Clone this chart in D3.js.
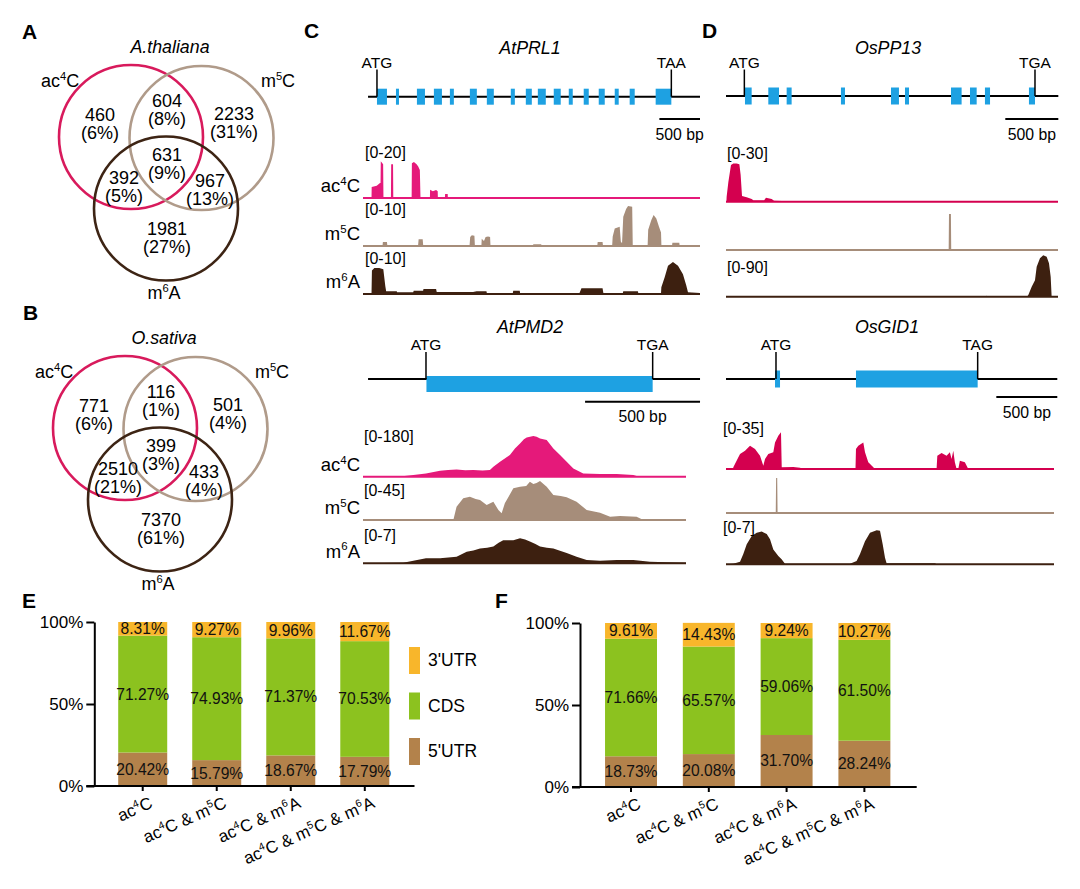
<!DOCTYPE html>
<html>
<head>
<meta charset="utf-8">
<script src="https://cdn.jsdelivr.net/npm/d3@7"></script>
<style>
  body { margin: 0; background: #fff; }
  svg { display: block; font-family: "Liberation Sans", Arial, sans-serif; }
</style>
</head>
<body>
<svg id="fig" width="1080" height="889"></svg>
<script>
// ---------- data ----------
// venn: regions = ac4C only, ac4C&m5C, m5C only, all three, ac4C&m6A, m5C&m6A, m6A only
const vennSets = ["ac{4}C", "m{5}C", "m{6}A"]
const athCounts = [460, 604, 2233, 631, 392, 967, 1981]
const osaCounts = [771, 116, 501, 399, 2510, 433, 7370]

// stacked bars (% of peaks)
const regionCats = ["ac{4}C", "ac{4}C & m{5}C", "ac{4}C & m{6}A", "ac{4}C & m{5}C & m{6}A"]
const segNames = ["3'UTR", "CDS", "5'UTR"]
const athUTR5 = [20.42, 15.79, 18.67, 17.79]
const athCDS  = [71.27, 74.93, 71.37, 70.53]
const athUTR3 = [8.31, 9.27, 9.96, 11.67]
const osaUTR5 = [18.73, 20.08, 31.70, 28.24]
const osaCDS  = [71.66, 65.57, 59.06, 61.50]
const osaUTR3 = [9.61, 14.43, 9.24, 10.27]
const pctTicks = [0, 50, 100]

// gene models, bp from window start
const prl1Len = 4150, prl1Span = [62, 4150], prl1Codons = [172, 3797], prl1CodonNames = ["ATG", "TAA"]
const prl1Exons = [[172,295],[406,443],[664,763],[873,972],[1070,1119],[1316,1402],[1525,1611],[1820,1870],
  [2005,2079],[2153,2251],[2349,2435],[2534,2583],[2718,2780],[2903,2977],[3100,3149],[3284,3346],[3604,3797]]
const pp13Len = 3131, pp13Span = [0, 3134], pp13Codons = [173, 2914], pp13CodonNames = ["ATG", "TGA"]
const pp13Exons = [[179,242],[399,500],[572,619],[1084,1122],[1556,1631],[1688,1726],[2122,2222],[2301,2364],[2442,2490],[2857,2914]]
const pmd2Len = 1405, pmd2Span = [22, 1466], pmd2Codons = [274, 1260], pmd2CodonNames = ["ATG", "TGA"]
const pmd2Exons = [[276,1260]]
const gid1Len = 2690, gid1Span = [0, 2717], gid1Codons = [410, 2064], gid1CodonNames = ["ATG", "TAG"]
const gid1Exons = [[402,443],[1066,2064]]

// coverage tracks [bp, value]
const prl1Ac4c = [[0,0],[105,0],[107,4.9],[169,5.5],[209,6.7],[216,6.7],[219,16.3],[248,15],[252,0],[344,0],[347,15],[370,15],[373,0],
  [599,0],[602,15.5],[627,16],[660,15],[680,14],[700,12.5],[708,0],[824,0],[826,3.7],[860,3],[900,3.6],[920,3],[922,0],
  [1009,0],[1011,1.8],[1043,1.8],[1045,0],[1276,0],[1278,0.4],[1300,0.4],[1302,0],[4150,0]]
const prl1M5c = [[0,0],[240,0],[245,0.9],[295,0.9],[300,0],[678,0],[685,1.5],[735,1.5],[742,0],[1312,0],[1320,2],[1340,2.4],
  [1372,2.3],[1378,0],[1458,0],[1462,1.6],[1490,1.1],[1510,2],[1540,2.1],[1565,2],[1570,0],[2093,0],[2097,0.4],[2195,0.4],
  [2198,0],[2885,0],[2890,0.9],[2950,0.9],[2956,0],[3068,0],[3075,2.1],[3100,3.9],[3161,4.3],[3175,1],[3190,0.6],[3205,6.5],
  [3240,8.2],[3264,8.9],[3315,8.7],[3322,0],[3505,0],[3512,3.6],[3551,5.8],[3579,6.9],[3612,6.1],[3645,4.3],[3670,3],
  [3675,0],[3805,0],[3810,0.7],[3895,0.7],[3900,0],[4150,0]]
const prl1M6a = [[0,0.2],[105,0.2],[110,5.2],[140,5.8],[200,5.8],[250,5.5],[275,1.7],[285,0.6],[415,0.6],[420,0.4],[618,0.4],
  [625,0.7],[740,0.7],[745,1.1],[900,1.1],[908,0.45],[1355,0.45],[1400,0.6],[1520,0.6],[1525,0.2],[1845,0.2],[1850,0.7],
  [1930,0.7],[1935,0.15],[2665,0.15],[2690,1.3],[2950,1.3],[2960,0.2],[3200,0.2],[3205,0.6],[3385,0.6],[3390,0.2],[3670,0.2],
  [3674,1.5],[3715,3.7],[3756,6.3],[3817,7.1],[3879,6.3],[3940,4.4],[3981,1.9],[4002,0.4],[4150,0.2]]

const pp13Ac4c = [[0,0],[4,0],[6,3.3],[22,13],[47,24.4],[69,25.5],[100,25.5],[126,25],[138,18],[151,3.8],[195,2.9],[242,1.8],
  [258,0.9],[360,0.9],[377,2.7],[431,1.8],[453,0.7],[603,0.3],[610,0],[3131,0]]
const pp13M5c = [[0,0],[2100,0],[2103,8],[2121,8],[2124,0],[3131,0]]
const pp13M6a = [[0,0.5],[2455,0.5],[2458,2],[2470,0.5],[2840,0.5],[2851,3.3],[2883,20],[2914,33],[2930,60],[2961,77],
  [2992,83],[3024,80],[3046,67],[3062,40],[3071,0],[3131,0]]

const pmd2Ac4c = [[0,0.5],[161,1.3],[219,6.7],[274,13],[335,24],[370,27],[407,29],[445,26],[480,27],[520,25],[552,27],[567,40],
  [596,60],[639,87],[661,113],[683,133],[700,150],[712,157],[741,163],[755,160],[770,153],[799,147],[828,113],[857,87],
  [886,60],[915,33],[958,13],[1031,11],[1104,11],[1176,7],[1190,2.7],[1405,0]]
const pmd2M5c = [[0,0],[393,0],[407,13.3],[436,21.7],[465,23.3],[490,21],[509,20],[538,15],[567,18.3],[589,10],[603,6.7],
  [617,16.7],[654,31.7],[683,33.3],[710,34],[726,38.3],[741,36],[755,37],[770,39],[799,33.3],[828,25],[860,24],[886,22.7],
  [929,18.3],[973,10],[1031,7.3],[1075,3.3],[1118,4],[1190,3.3],[1220,0],[1405,0]]
const pmd2M6a = [[0,0],[175,0.1],[219,0.4],[274,0.8],[335,0.8],[407,1.0],[451,1.8],[480,2.0],[509,2.3],[540,2.4],[567,2.6],
  [590,3.2],[610,3.6],[654,3.6],[683,3.9],[705,3.7],[726,3.4],[750,3.0],[770,2.6],[800,2.4],[828,2.3],[860,1.9],[886,1.6],
  [929,1.0],[973,0.5],[1031,0.4],[1104,0.5],[1176,0.5],[1248,0.26],[1321,0.16],[1405,0.1]]

const gid1Ac4c = [[0,0],[58,0],[60,1.3],[87,6.5],[115,11.7],[156,14.2],[197,18.1],[238,15.5],[279,10.4],[306,2.6],[320,7.8],
  [347,11.7],[388,13],[402,20.7],[429,25.9],[451,28.5],[457,1.3],[552,1.6],[607,1],[634,0],[1062,0],[1066,15.5],[1085,18.1],
  [1126,20.7],[1140,13],[1167,5.2],[1208,1.3],[1222,0],[1727,0],[1733,10.4],[1768,12.4],[1809,10.4],[1836,13],[1850,7.8],
  [1864,14.2],[1877,5.2],[1891,0],[1905,0],[1918,6.5],[1959,5.2],[1987,0],[2690,0]]
const gid1M5c = [[0,0],[408,0],[411,7.8],[420,7.8],[423,0],[2690,0]]
const gid1M6a = [[0,0],[60,0.1],[115,0.4],[142,1.6],[170,3.1],[211,4.4],[252,4.9],[293,5.1],[334,4.7],[361,3.9],[388,2.3],
  [429,1.3],[456,0.8],[484,0.1],[1017,0.1],[1071,0.5],[1099,1.6],[1140,3.6],[1181,4.9],[1236,5.3],[1263,5.2],[1285,3.1],
  [1304,1.0],[1317,0.16],[1714,0.15],[1727,0],[2690,0]]

const trackNames = ["ac{4}C", "m{5}C", "m{6}A"]
const prl1Ranges = [20, 10, 10], pp13Ranges = [30, 10, 90], pmd2Ranges = [180, 45, 7], gid1Ranges = [35, 10, 7]
const pp13ShowRange = [true, false, true], gid1ShowRange = [true, false, true]

// ---------- style ----------
const vennColors = ["#d81a5c", "#b09b8a", "#3d2414"]
const segColors = { "3'UTR": "#f8b62b", "CDS": "#8cc21f", "5'UTR": "#b3824b" }
const exonColor = "#1ea1e2"
const trackColorsC = ["#e5197a", "#a68d7a", "#3d2010"]
const trackColorsD = ["#d4004f", "#a68d7a", "#3d2010"]
const FS = 17

const svg = d3.select("#fig")
svg.append("rect").attr("width", 1080).attr("height", 889).attr("fill", "#fff")

// text with {n} superscripts
function rich(sel, str, size) {
  let up = false
  str.split(/\{(\d)\}/).forEach((p, i) => {
    if (p === "") return
    const t = sel.append("tspan").text(p)
    if (i % 2) { t.attr("font-size", size * 0.62).attr("dy", -size * 0.4); up = true }
    else if (up) { t.attr("dy", size * 0.4); up = false }
  })
  return sel
}

// panel letters
const letters = [["A", 22, 38.5], ["B", 23, 320], ["C", 304, 38], ["D", 702, 38], ["E", 22, 608], ["F", 495, 608]]
svg.selectAll("text.letter").data(letters).join("text")
  .attr("class", "letter")
  .attr("x", d => d[1]).attr("y", d => d[2])
  .attr("font-size", 21).attr("font-weight", "bold")
  .text(d => d[0])

// ---------- venn ----------
const vennCircles = [[-35, -24], [35.5, -23], [0, 47.5]]
const vennSpots = [[-66, -46], [1, -60], [68, -47], [1, -6], [-42, 17], [44, 20], [1, 68]]
const vennSetPos = [[-106, -80], [112, -80], [-2, 132]]
const VS = 18

function drawVenn(cx, cy, counts, title) {
  const g = svg.append("g").attr("transform", `translate(${cx},${cy})`)
  const total = d3.sum(counts)

  g.selectAll("circle").data(vennSets).join("circle")
    .attr("cx", (d, i) => vennCircles[i][0])
    .attr("cy", (d, i) => vennCircles[i][1])
    .attr("r", 72)
    .attr("fill", "none")
    .attr("stroke", (d, i) => vennColors[i])
    .attr("stroke-width", 2.6)

  g.append("text").attr("x", 4).attr("y", -114).attr("dy", "0.35em")
    .attr("text-anchor", "middle").attr("font-style", "italic").attr("font-size", 17.8)
    .text(title)

  g.selectAll("text.set").data(vennSets).join("text")
    .attr("class", "set")
    .attr("x", (d, i) => vennSetPos[i][0]).attr("y", (d, i) => vennSetPos[i][1])
    .attr("dy", "0.35em").attr("text-anchor", "middle").attr("font-size", 18)
    .each(function (d) { rich(d3.select(this), d, 18) })

  const lab = g.selectAll("g.region").data(counts).join("g")
    .attr("class", "region")
    .attr("transform", (d, i) => `translate(${vennSpots[i][0]},${vennSpots[i][1]})`)
  lab.append("text").attr("y", -0.5).attr("dy", "0.35em").attr("text-anchor", "middle").attr("font-size", VS)
    .text(d => d)
  lab.append("text").attr("y", 17.5).attr("dy", "0.35em").attr("text-anchor", "middle").attr("font-size", VS)
    .text(d => `(${Math.round(d / total * 100)}%)`)
}

drawVenn(166, 161, athCounts, "A.thaliana")
drawVenn(160, 452, osaCounts, "O.sativa")

// ---------- gene + tracks ----------
function drawGene(p, gene, tracks) {
  const g = svg.append("g")
  const x = d3.scaleLinear().domain([0, gene.len]).range([p.x0, p.x1])

  g.append("text").attr("x", p.titleX).attr("y", p.titleY).attr("dy", "0.35em")
    .attr("text-anchor", "middle").attr("font-style", "italic").attr("font-size", 17.8)
    .text(gene.name)

  g.append("line")
    .attr("x1", x(gene.span[0])).attr("x2", x(gene.span[1]))
    .attr("y1", p.lineY).attr("y2", p.lineY)
    .attr("stroke", "#000").attr("stroke-width", 2)

  g.selectAll("rect.exon").data(gene.exons).join("rect")
    .attr("class", "exon")
    .attr("x", d => x(d[0])).attr("width", d => Math.max(2, x(d[1]) - x(d[0])))
    .attr("y", p.lineY + p.exonDy - p.exonH / 2).attr("height", p.exonH)
    .attr("fill", exonColor)

  // start / stop codons
  g.selectAll("line.codon").data(gene.codons).join("line")
    .attr("class", "codon")
    .attr("x1", d => x(d)).attr("x2", d => x(d))
    .attr("y1", p.lineY).attr("y2", p.codonY + 7)
    .attr("stroke", "#000").attr("stroke-width", 1.5)
  g.selectAll("text.codon").data(gene.codons).join("text")
    .attr("class", "codon")
    .attr("x", d => x(d)).attr("y", p.codonY).attr("dy", "0.35em")
    .attr("text-anchor", "middle").attr("font-size", 15.5)
    .text((d, i) => gene.codonNames[i])

  // 500 bp scale bar
  const b0 = x(gene.span[1] - 500), b1 = x(gene.span[1])
  g.append("line").attr("x1", b0).attr("x2", b1).attr("y1", p.barY).attr("y2", p.barY)
    .attr("stroke", "#000").attr("stroke-width", 2)
  g.append("text").attr("x", (b0 + b1) / 2).attr("y", p.barY + 15).attr("dy", "0.35em")
    .attr("text-anchor", "middle").attr("font-size", 15.8)
    .text("500 bp")

  tracks.data.forEach((vals, i) => {
    const base = p.rows[i]
    const y = d3.scaleLinear().domain([0, tracks.ranges[i]]).range([base, base - 45])
    const area = d3.area().x(d => x(d[0])).y0(base).y1(d => y(d[1]))
    g.append("path").datum(vals).attr("d", area).attr("fill", tracks.colors[i])
    g.append("line").attr("x1", x(0)).attr("x2", x(gene.len)).attr("y1", base).attr("y2", base)
      .attr("stroke", tracks.colors[i]).attr("stroke-width", 2)
    if (tracks.show[i]) {
      g.append("text").attr("x", p.rangeX).attr("y", p.rangeY[i]).attr("dy", "0.35em")
        .attr("font-size", 16)
        .text(`[0-${tracks.ranges[i]}]`)
    }
    if (p.names) {
      g.append("text").attr("x", 360).attr("y", base - 12).attr("dy", "0.35em")
        .attr("text-anchor", "end").attr("font-size", 18.5)
        .call(s => rich(s, trackNames[i], 18.5))
    }
  })
}

drawGene(
  { x0: 363, x1: 700, titleX: 530, titleY: 48, lineY: 96.7, exonH: 16, exonDy: 0, codonY: 62.5, barY: 119,
    rows: [198, 246, 294], rangeY: [152, 209, 258], rangeX: 365, names: true },
  { name: "AtPRL1", len: prl1Len, span: prl1Span, exons: prl1Exons, codons: prl1Codons, codonNames: prl1CodonNames },
  { data: [prl1Ac4c, prl1M5c, prl1M6a], ranges: prl1Ranges, show: [true, true, true], colors: trackColorsC })

drawGene(
  { x0: 726, x1: 1058, titleX: 888, titleY: 48, lineY: 96, exonH: 17, exonDy: 0, codonY: 62.5, barY: 119,
    rows: [201.7, 250, 296.7], rangeY: [153, 0, 267], rangeX: 727, names: false },
  { name: "OsPP13", len: pp13Len, span: pp13Span, exons: pp13Exons, codons: pp13Codons, codonNames: pp13CodonNames },
  { data: [pp13Ac4c, pp13M5c, pp13M6a], ranges: pp13Ranges, show: pp13ShowRange, colors: trackColorsD })

drawGene(
  { x0: 363, x1: 686, titleX: 530, titleY: 327, lineY: 379, exonH: 16, exonDy: 5, codonY: 345, barY: 401.7,
    rows: [476.7, 520, 563.3], rangeY: [436, 490, 535], rangeX: 364, names: true },
  { name: "AtPMD2", len: pmd2Len, span: pmd2Span, exons: pmd2Exons, codons: pmd2Codons, codonNames: pmd2CodonNames },
  { data: [pmd2Ac4c, pmd2M5c, pmd2M6a], ranges: pmd2Ranges, show: [true, true, true], colors: trackColorsC })

drawGene(
  { x0: 726, x1: 1054, titleX: 887, titleY: 327, lineY: 379, exonH: 17, exonDy: 0, codonY: 345, barY: 397,
    rows: [469, 513, 564.3], rangeY: [428, 0, 527], rangeX: 723, names: false },
  { name: "OsGID1", len: gid1Len, span: gid1Span, exons: gid1Exons, codons: gid1Codons, codonNames: gid1CodonNames },
  { data: [gid1Ac4c, gid1M5c, gid1M6a], ranges: gid1Ranges, show: gid1ShowRange, colors: trackColorsD })

// ---------- stacked bars ----------
function drawBars(p, utr5, cds, utr3, legend) {
  const g = svg.append("g")
  const rows = regionCats.map((c, i) => ({ cat: c, "5'UTR": utr5[i], "CDS": cds[i], "3'UTR": utr3[i] }))
  const series = d3.stack().keys(["5'UTR", "CDS", "3'UTR"])(rows)

  const x = d3.scaleBand().domain(regionCats).range([p.r0, p.r1]).paddingInner(p.pad).paddingOuter(0.3)
  const y = d3.scaleLinear().domain([0, 100]).range([p.y0, p.y1])

  const grp = g.selectAll("g.seg").data(series).join("g").attr("class", "seg")
    .attr("fill", d => segColors[d.key])
  grp.selectAll("rect").data(d => d).join("rect")
    .attr("x", d => x(d.data.cat)).attr("width", x.bandwidth())
    .attr("y", d => y(d[1])).attr("height", d => y(d[0]) - y(d[1]))
  grp.selectAll("text").data(d => d.map(v => ({ v, key: d.key }))).join("text")
    .attr("x", d => x(d.v.data.cat) + x.bandwidth() / 2)
    .attr("y", d => y((d.v[0] + d.v[1]) / 2)).attr("dy", "0.35em")
    .attr("text-anchor", "middle").attr("font-size", 15.6).attr("fill", "#111")
    .text(d => d.v.data[d.key].toFixed(2) + "%")

  // y axis
  g.append("g").attr("transform", `translate(${p.ax},0)`)
    .call(d3.axisLeft(y).tickValues(pctTicks).tickFormat(d => d + "%").tickSize(8).tickSizeOuter(0).tickPadding(3))
    .call(a => a.selectAll("path,line").attr("stroke", "#000").attr("stroke-width", 2))
    .call(a => a.selectAll("text").attr("font-size", FS).attr("fill", "#000").attr("font-family", null))

  // x axis
  g.append("line").attr("x1", p.ax - 8).attr("x2", p.r1 + 3).attr("y1", p.y0).attr("y2", p.y0)
    .attr("stroke", "#000").attr("stroke-width", 2)
  g.append("g").attr("transform", `translate(0,${p.y0})`)
    .call(d3.axisBottom(x).tickSize(5).tickSizeOuter(0).tickFormat(""))
    .call(a => a.select(".domain").remove())
    .call(a => a.selectAll("line").attr("stroke", "#000").attr("stroke-width", 2))
  g.selectAll("text.cat").data(regionCats).join("text")
    .attr("class", "cat")
    .attr("transform", d => `translate(${x(d) + x.bandwidth() / 2 + 11},${p.y0 + 21}) rotate(-24)`)
    .attr("text-anchor", "end").attr("font-size", FS)
    .each(function (d) { rich(d3.select(this), d, FS) })

  if (legend) {
    const lg = g.selectAll("g.leg").data(segNames).join("g").attr("class", "leg")
      .attr("transform", (d, i) => `translate(409,${660 + i * 45.5})`)
    lg.append("rect").attr("y", -13).attr("width", 11).attr("height", 27).attr("fill", d => segColors[d])
    lg.append("text").attr("x", 19).attr("dy", "0.35em").attr("font-size", 17.5).text(d => d)
  }
}

drawBars({ ax: 94.3, r0: 96, r1: 411.5, pad: 0.338, y0: 786, y1: 622 }, athUTR5, athCDS, athUTR3, true)
drawBars({ ax: 580, r0: 581.7, r1: 913.7, pad: 0.332, y0: 787, y1: 623 }, osaUTR5, osaCDS, osaUTR3, false)
</script>
</body>
</html>
